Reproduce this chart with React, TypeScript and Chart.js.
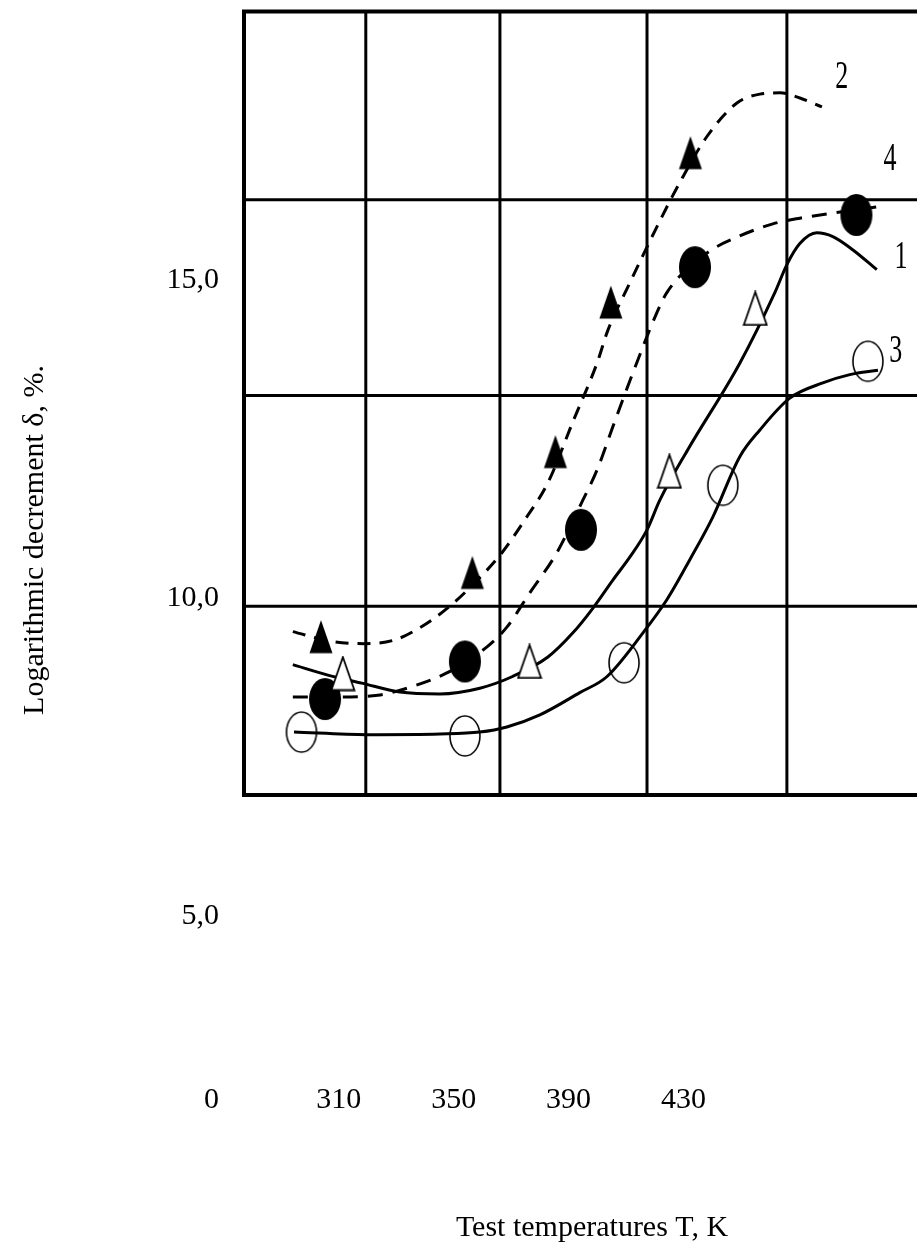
import React, { useEffect, useRef } from 'react';
import { Chart, registerables } from 'chart.js';

Chart.register(...registerables);

// ---- axes (temperature, K / logarithmic decrement, %) ----
const X_MIN = 277.0;
const X_MAX = 519.3;
const Y_MIN = 2.42;
const Y_MAX = 19.4;
const X_TICKS = [310, 350, 390, 430];
const Y_TICKS = [5, 10, 15];
const Y_ORIGIN_TICK = 2.1; // position of the "0" origin label of the broken axis
const X_TITLE = 'Test temperatures T, K';
const Y_TITLE = 'Logarithmic decrement δ, %.';

// ---- framed grid of the figure ----
const GRID_T = [277.0, 319.4, 366.1, 417.3, 466.0];
const GRID_D = [19.22, 16.26, 13.18, 9.87, 6.9];

// ---- measured points ----
// 1: open triangles
const P1_T = [311.4, 376.4, 425.1, 455.0];
const P1_D = [8.81, 9.0, 11.99, 14.55];
// 2: filled triangles
const P2_T = [303.8, 356.5, 385.4, 404.7, 432.4];
const P2_D = [9.39, 10.4, 12.3, 14.65, 17.0];
// 3: open circles
const P3_T = [297.0, 353.9, 409.3, 443.7, 494.2];
const P3_D = [7.89, 7.83, 8.98, 11.77, 13.72];
// 4: filled circles
const P4_T = [305.2, 353.9, 394.3, 434.0, 490.2];
const P4_D = [8.41, 9.0, 11.07, 15.2, 16.02];

// ---- fitted curves ----
const C1_T = [294.0, 305.9, 318.0, 331.3, 345.2, 359.1, 370.3, 382.8, 391.5, 398.5, 405.4, 411.3, 417.3, 421.8, 431.5, 449.6, 461.8, 466.0, 470.5, 476.4, 482.0, 489.0, 497.3];
const C1_D = [8.95, 8.79, 8.66, 8.52, 8.49, 8.58, 8.76, 9.07, 9.45, 9.84, 10.28, 10.64, 11.07, 11.54, 12.33, 13.69, 14.8, 15.24, 15.57, 15.74, 15.68, 15.47, 15.16];
const C2_T = [294.0, 306.9, 319.1, 329.5, 338.2, 347.6, 357.4, 366.8, 374.8, 382.8, 391.5, 399.9, 403.7, 411.3, 420.7, 428.7, 438.1, 448.6, 456.6, 463.6, 470.5, 478.2];
const C2_D = [9.47, 9.32, 9.28, 9.34, 9.53, 9.83, 10.24, 10.71, 11.23, 11.81, 12.77, 13.69, 14.21, 14.95, 15.83, 16.53, 17.25, 17.78, 17.92, 17.94, 17.86, 17.72];
const C3_T = [294.4, 319.8, 345.2, 359.1, 368.5, 380.0, 393.9, 403.3, 415.9, 424.2, 432.2, 440.2, 449.6, 456.6, 467.0, 478.5, 487.9, 497.7];
const C3_D = [7.89, 7.85, 7.86, 7.89, 7.97, 8.16, 8.51, 8.76, 9.45, 9.97, 10.6, 11.27, 12.22, 12.64, 13.14, 13.38, 13.51, 13.58];
const C4_T = [294.0, 306.9, 323.6, 336.5, 347.6, 361.6, 368.5, 376.5, 385.9, 395.0, 399.9, 405.4, 412.4, 420.7, 424.2, 438.1, 449.6, 461.1, 470.5, 482.0, 497.7];
const C4_D = [8.44, 8.44, 8.47, 8.62, 8.82, 9.23, 9.54, 10.08, 10.71, 11.54, 12.01, 12.69, 13.54, 14.48, 14.8, 15.42, 15.69, 15.88, 15.97, 16.05, 16.15];

// ---- curve numbers ----
const CURVE_LABELS = ['2', '4', '1', '3'];
const LABEL_T = [485.1, 501.9, 505.7, 503.9];
const LABEL_D = [18.19, 16.9, 15.35, 13.87];

const FONT = '"Liberation Serif", "Times New Roman", serif';

const zip = (xs: number[], ys: number[]) => xs.map((x, i) => ({ x, y: ys[i] }));

function makeMarker(kind: string): HTMLCanvasElement {
  const c = document.createElement('canvas');
  const tri = kind.startsWith('tri');
  const w = tri ? 26 : 34;
  const h = tri ? 36 : 44;
  c.width = w;
  c.height = h;
  const g = c.getContext('2d') as CanvasRenderingContext2D;
  g.beginPath();
  if (tri) {
    g.moveTo(w / 2, 1.5);
    g.lineTo(w - 1.5, h - 1.5);
    g.lineTo(1.5, h - 1.5);
    g.closePath();
  } else if (kind === 'dot') {
    g.ellipse(w / 2, h / 2, 16, 21, 0, 0, Math.PI * 2);
  } else {
    g.ellipse(w / 2, h / 2, 15, 20, 0, 0, Math.PI * 2);
  }
  if (kind === 'triFilled' || kind === 'dot') {
    g.fillStyle = '#000';
    g.fill();
  } else if (kind === 'triOpen') {
    g.fillStyle = '#fff';
    g.fill();
    g.lineWidth = 1.8;
    g.strokeStyle = '#000';
    g.stroke();
  } else {
    g.lineWidth = 1.6;
    g.strokeStyle = '#000';
    g.stroke();
  }
  return c;
}

const curveLabelPlugin = {
  id: 'curveLabels',
  afterDatasetsDraw(chart: any) {
    const { ctx } = chart;
    const xs = chart.scales.x;
    const ys = chart.scales.y;
    ctx.save();
    ctx.fillStyle = '#000';
    ctx.font = '26px ' + FONT;
    ctx.textAlign = 'center';
    ctx.textBaseline = 'middle';
    CURVE_LABELS.forEach((t, i) => {
      const px = xs.getPixelForValue(LABEL_T[i]);
      const py = ys.getPixelForValue(LABEL_D[i]);
      ctx.save();
      ctx.translate(px, py);
      ctx.scale(1, 1.55);
      ctx.fillText(t, 0, 0);
      ctx.restore();
    });
    ctx.restore();
  },
};

export default function App() {
  const ref = useRef<HTMLCanvasElement | null>(null);

  useEffect(() => {
    if (!ref.current) return;
    const top = GRID_D[0];
    const bottom = GRID_D[GRID_D.length - 1];
    const left = GRID_T[0];
    const border = [
      { x: X_MAX, y: top },
      { x: left, y: top },
      { x: left, y: bottom },
      { x: X_MAX, y: bottom },
    ];
    const inner: { x: number; y: number | null }[] = [];
    GRID_T.slice(1).forEach((t) => {
      inner.push({ x: t, y: bottom }, { x: t, y: top }, { x: t, y: null });
    });
    GRID_D.slice(1, -1).forEach((d) => {
      inner.push({ x: left, y: d }, { x: X_MAX, y: d }, { x: X_MAX, y: null });
    });

    const curve = (xs: number[], ys: number[], dash: number[]) => ({
      data: zip(xs, ys),
      borderColor: '#000',
      borderWidth: 3,
      borderDash: dash,
      pointRadius: 0,
      cubicInterpolationMode: 'monotone',
      fill: false,
      order: 5,
    });
    const marks = (xs: number[], ys: number[], style: HTMLCanvasElement) => ({
      data: zip(xs, ys),
      showLine: false,
      pointStyle: style,
      pointRadius: 12,
      order: 1,
    });
    const gridSet = (data: any[], w: number) => ({
      data,
      borderColor: '#000',
      borderWidth: w,
      pointRadius: 0,
      tension: 0,
      spanGaps: false,
      clip: false,
      borderJoinStyle: 'miter',
      order: 10,
    });

    const chart = new Chart(ref.current, {
      type: 'line',
      data: {
        datasets: [
          marks(P1_T, P1_D, makeMarker('triOpen')),
          marks(P2_T, P2_D, makeMarker('triFilled')),
          marks(P3_T, P3_D, makeMarker('ring')),
          marks(P4_T, P4_D, makeMarker('dot')),
          curve(C1_T, C1_D, []),
          curve(C2_T, C2_D, [13, 9]),
          curve(C3_T, C3_D, []),
          curve(C4_T, C4_D, [15, 10]),
          gridSet(border, 4),
          gridSet(inner, 3),
        ] as any,
      },
      options: {
        animation: false,
        responsive: false,
        maintainAspectRatio: false,
        events: [],
        layout: { padding: 0, autoPadding: false },
        plugins: { legend: { display: false }, tooltip: { enabled: false }, title: { display: false } },
        scales: {
          x: {
            type: 'linear',
            min: X_MIN,
            max: X_MAX,
            grid: { display: false, drawTicks: false },
            border: { display: false },
            afterBuildTicks: (s: any) => {
              s.ticks = X_TICKS.map((v) => ({ value: v }));
            },
            afterFit: (s: any) => {
              s.height = 170;
              s.paddingLeft = 0;
              s.paddingRight = 0;
            },
            ticks: {
              autoSkip: false,
              maxRotation: 0,
              padding: 2,
              color: '#000',
              font: { family: FONT, size: 30 },
              callback: (v: any) => String(v),
            },
            title: {
              display: true,
              text: X_TITLE,
              color: '#000',
              font: { family: FONT, size: 30 },
              padding: { top: 0, bottom: 4 },
            },
          },
          y: {
            type: 'linear',
            min: Y_MIN,
            max: Y_MAX,
            grid: { display: false, drawTicks: false },
            border: { display: false },
            afterBuildTicks: (s: any) => {
              s.ticks = [Y_ORIGIN_TICK, ...Y_TICKS].map((v) => ({ value: v }));
            },
            afterFit: (s: any) => {
              s.width = 244;
              s.paddingTop = 0;
              s.paddingBottom = 0;
            },
            ticks: {
              autoSkip: false,
              padding: 25,
              color: '#000',
              font: { family: FONT, size: 30 },
              callback: (v: any) => (v === Y_ORIGIN_TICK ? '0' : Number(v).toFixed(1).replace('.', ',')),
            },
            title: {
              display: true,
              text: Y_TITLE,
              color: '#000',
              font: { family: FONT, size: 30 },
              padding: { top: 17, bottom: 0 },
            },
          },
        },
      } as any,
      plugins: [curveLabelPlugin],
    });
    return () => chart.destroy();
  }, []);

  return (
    <div
      style={{
        position: 'absolute',
        left: 0,
        top: 0,
        width: 917,
        height: 1250,
        overflow: 'hidden',
        background: '#fff',
      }}
    >
      <canvas ref={ref} width={940} height={1250} style={{ display: 'block', width: 940, height: 1250 }} />
    </div>
  );
}
